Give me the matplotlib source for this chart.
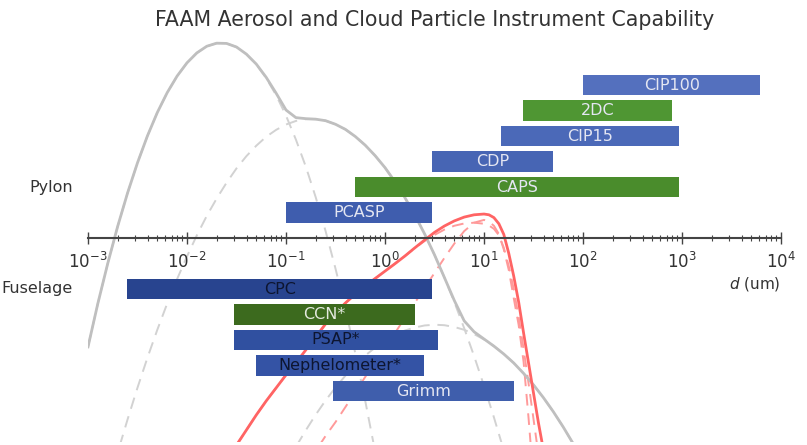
import numpy as np
import matplotlib
matplotlib.use("Agg")
import matplotlib.pyplot as plt
import matplotlib.transforms as mtransforms
from matplotlib.ticker import LogLocator, NullFormatter

nan = np.nan

# Instrument size ranges (um), bar level on the y axis
pylon_names = ["CIP100", "2DC", "CIP15", "CDP", "CAPS", "PCASP"]
pylon_lo = [100, 25, 15, 3, 0.5, 0.1]
pylon_hi = [6200, 800, 930, 50, 930, 3]
pylon_level = [6, 5, 4, 3, 2, 1]

fuse_names = ["CPC", "CCN*", "PSAP*", "Nephelometer*", "Grimm"]
fuse_lo = [0.0025, 0.03, 0.03, 0.05, 0.3]
fuse_hi = [3, 2, 3.4, 2.5, 20]
fuse_level = [-2, -3, -4, -5, -6]

pylon_colors = ["#5470be", "#4f9633", "#4b69b8", "#4765b4", "#4a8c2c", "#3f5dae"]
fuse_colors = ["#28448f", "#3c6a1e", "#3050a0", "#3453a5", "#3f5eac"]
pylon_text = ["#e4e6f2"] * 6
fuse_text = ["#0d1530", "#e4eadf", "#0d1530", "#0d1530", "#e4e6f2"]

# x axis decades
decades = [1e-3, 1e-2, 1e-1, 1e0, 1e1, 1e2, 1e3, 1e4]

# Aerosol size distributions (log10 of d in um)
aero_logd = [-3.0, -2.9, -2.8, -2.7, -2.6, -2.5, -2.4, -2.3, -2.2, -2.1,
             -2.0, -1.9, -1.8, -1.7, -1.6, -1.5, -1.4, -1.3, -1.2, -1.1,
             -1.0, -0.9, -0.8, -0.7, -0.6, -0.5, -0.4, -0.3, -0.2, -0.1,
             0.0, 0.1, 0.2, 0.3, 0.4, 0.5, 0.6, 0.7, 0.8, 0.9,
             1.0, 1.1, 1.2, 1.3, 1.4, 1.5, 1.6, 1.7, 1.8, 1.9]
aero_total = [-4.27, -2.56, -0.99, 0.46, 1.77, 2.95, 4.00, 4.92, 5.70, 6.35,
              6.87, 7.26, 7.52, 7.64, 7.63, 7.49, 7.21, 6.82, 6.30, 5.68,
              5.02, 4.72, 4.68, 4.66, 4.60, 4.46, 4.26, 3.98, 3.64, 3.23,
              2.76, 2.21, 1.59, 0.91, 0.16, -0.66, -1.55, -2.45, -3.25, -3.68,
              -3.96, -4.24, -4.55, -4.90, -5.31, -5.76, -6.26, -6.81, -7.41, -8.06]
aero_aitken = [-4.27, -2.56, -0.99, 0.46, 1.77, 2.95, 4.00, 4.92, 5.70, 6.35,
               6.87, 7.26, 7.52, 7.64, 7.63, 7.49, 7.21, 6.81, 6.27, 5.60,
               4.80, 3.86, 2.80, 1.60, 0.27, -1.20, -2.79, -4.52, -6.38, -8.37,
               nan, nan, nan, nan, nan, nan, nan, nan, nan, nan,
               nan, nan, nan, nan, nan, nan, nan, nan, nan, nan]
aero_accum = [nan, nan, nan, -8.41, -7.11, -5.87, -4.70, -3.60, -2.57, -1.61,
              -0.72, 0.11, 0.87, 1.55, 2.17, 2.73, 3.21, 3.62, 3.97, 4.24,
              4.45, 4.59, 4.66, 4.66, 4.60, 4.46, 4.26, 3.98, 3.64, 3.23,
              2.76, 2.21, 1.59, 0.91, 0.16, -0.66, -1.55, -2.51, -3.54, -4.63,
              -5.80, -7.03, -8.33, nan, nan, nan, nan, nan, nan, nan]
aero_coarse = [nan, nan, nan, nan, nan, nan, nan, nan, nan, nan,
               nan, nan, nan, nan, nan, nan, nan, nan, nan, nan,
               nan, -8.19, -7.54, -6.93, -6.37, -5.86, -5.40, -4.98, -4.61, -4.30,
               -4.03, -3.80, -3.63, -3.51, -3.43, -3.40, -3.42, -3.49, -3.60, -3.77,
               -3.98, -4.24, -4.55, -4.90, -5.31, -5.76, -6.26, -6.81, -7.41, -8.06]

# Cloud droplet distributions
cloud_logd = [-1.5, -1.4, -1.3, -1.2, -1.1, -1.0, -0.9, -0.8, -0.7, -0.6,
              -0.5, -0.4, -0.3, -0.2, -0.1, 0.0, 0.1, 0.2, 0.3, 0.4,
              0.5, 0.6, 0.7, 0.8, 0.9, 1.0,
              1.05, 1.1, 1.15, 1.2, 1.25, 1.3, 1.35, 1.4, 1.45, 1.5, 1.55, 1.6]
cloud_total = [-8.12, -7.53, -6.94, -6.39, -5.88, -5.37, -4.90, -4.39, -3.88, -3.37,
               -2.94, -2.55, -2.20, -1.88, -1.59, -1.30, -1.01, -0.71, -0.39, -0.08,
               0.22, 0.47, 0.67, 0.82, 0.91, 0.94,
               0.91, 0.80, 0.56, 0.14, -0.60, -1.49, -2.51, -3.73, -4.90, -6.08, -7.25, -8.31]
cloud_narrow = [nan, nan, nan, nan, nan, nan, nan, nan, -8.35, -7.76,
                -7.22, -6.63, -6.04, -5.45, -4.86, -4.27, -3.73, -3.14, -2.55, -1.96,
                -1.37, -0.78, -0.22, 0.27, 0.60, 0.71,
                0.64, 0.48, 0.16, -0.45, -1.25, -2.35, -3.41, -4.86, -7.06, -9.49, nan, nan]
cloud_broad = [-8.12, -7.53, -6.94, -6.39, -5.88, -5.37, -4.90, -4.39, -3.88, -3.37,
               -2.94, -2.55, -2.20, -1.88, -1.59, -1.30, -1.01, -0.71, -0.40, -0.12,
               0.12, 0.33, 0.48, 0.57, 0.60, 0.56,
               0.49, 0.36, 0.11, -0.38, -1.10, -2.00, -3.10, -4.35, -5.70, -7.10, -8.50, nan]

fig = plt.figure(figsize=(8.07, 4.45), dpi=100)
ax = fig.add_axes([88 / 807, 3 / 445, 693 / 807, 408 / 445])
ax.set_xscale("log")
ax.set_xlim(1e-3, 1e4)
ax.set_ylim(-8, 8)

aero_d = 10 ** np.array(aero_logd)
cloud_d = 10 ** np.array(cloud_logd)

dash_gray = dict(color="#d2d2d2", lw=1.4, ls=(0, (6, 4)), zorder=1)
for ys in (aero_aitken, aero_accum, aero_coarse):
    ax.plot(aero_d, ys, **dash_gray)
ax.plot(aero_d, aero_total, color="#bfbfbf", lw=2, zorder=2)

dash_red = dict(color="#ff9a9a", lw=1.4, ls=(0, (6, 4)), zorder=1)
for ys in (cloud_narrow, cloud_broad):
    ax.plot(cloud_d, ys, **dash_red)
ax.plot(cloud_d, cloud_total, color="#ff6464", lw=2, zorder=2)


def draw_bars(names, lo, hi, level, colors, tcolors):
    lo = np.array(lo, dtype=float)
    hi = np.array(hi, dtype=float)
    ax.barh(level, hi - lo, left=lo, height=0.8, color=colors,
            edgecolor="none", zorder=3)
    for n, a, b, y, tc in zip(names, lo, hi, level, tcolors):
        ax.text(np.sqrt(a * b), y, n, ha="center", va="center",
                fontsize=11.5, color=tc, zorder=4)


draw_bars(pylon_names, pylon_lo, pylon_hi, pylon_level, pylon_colors, pylon_text)
draw_bars(fuse_names, fuse_lo, fuse_hi, fuse_level, fuse_colors, fuse_text)

# group labels to the left of the axis
trans = mtransforms.blended_transform_factory(ax.transAxes, ax.transData)
ax.text(-15 / 693, 2, "Pylon", transform=trans, ha="right", va="center",
        fontsize=11.5, color="#333333", clip_on=False)
ax.text(-15 / 693, -2, "Fuselage", transform=trans, ha="right", va="center",
        fontsize=11.5, color="#333333", clip_on=False)

# axis through y = 0
for s in ("top", "left", "right"):
    ax.spines[s].set_visible(False)
ax.spines["bottom"].set_position(("data", 0))
ax.spines["bottom"].set_color("#444444")
ax.spines["bottom"].set_linewidth(1.5)
ax.spines["bottom"].set_zorder(5)
ax.set_yticks([])
ax.set_xticks(decades)
ax.xaxis.set_minor_locator(LogLocator(base=10, subs=np.arange(2, 10), numticks=20))
ax.xaxis.set_minor_formatter(NullFormatter())
ax.tick_params(axis="x", which="major", direction="inout", length=8, width=1,
               color="#444444", labelsize=12, labelcolor="#333333", pad=6)
ax.tick_params(axis="x", which="minor", direction="inout", length=4, width=0.8,
               color="#444444")
ax.set_xlabel("$d$ (um)", loc="right", fontsize=11, color="#333333", labelpad=2)

ax.set_title("FAAM Aerosol and Cloud Particle Instrument Capability",
             fontsize=14.8, color="#333333", pad=6)

fig.savefig("out.png", dpi=100)
